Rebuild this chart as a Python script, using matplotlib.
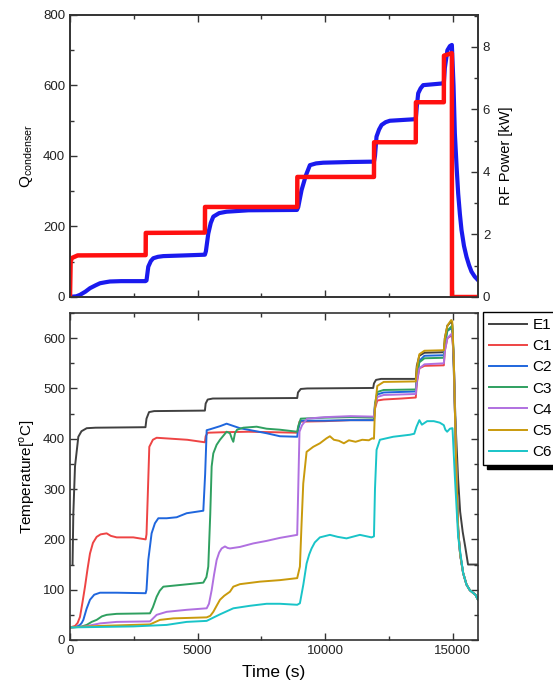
import numpy as np
import matplotlib
matplotlib.use("Agg")
import matplotlib.pyplot as plt
from matplotlib.ticker import MultipleLocator

plt.rcParams['font.family'] = ['Liberation Sans', 'DejaVu Sans']
plt.rcParams['mathtext.fontset'] = 'custom'
plt.rcParams['mathtext.rm'] = 'Liberation Sans'

# ---- top panel: condenser heat (left) and RF power (right) ----
q_t = [0, 100, 250, 390, 600, 784, 1000, 1176, 1400, 1568, 2000, 2960, 3000, 3070,
       3170, 3267, 3450, 3660, 4500, 5290, 5330, 5423, 5520, 5620, 5850, 6142, 7000,
       8900, 8950, 9080, 9250, 9408, 9650, 9930, 11000, 11920, 11960, 12020, 12120,
       12218, 12380, 12544, 13450, 13560, 13600, 13655, 13750, 13850, 14633, 14660,
       14700, 14800, 14900, 14975, 15040, 15092, 15160, 15222, 15290, 15353, 15450,
       15549, 15650, 15745, 15870, 16000]
q_val = [0, 1, 2, 6, 15, 25, 33, 39, 42, 44, 45, 45, 47, 86, 102, 110, 114, 116, 118,
         120, 130, 180, 210, 228, 238, 242, 246, 247, 255, 303, 345, 374, 379, 381, 383,
         384, 400, 455, 475, 488, 496, 500, 504, 505, 540, 578, 592, 601, 606, 606, 650,
         700, 712, 715, 600, 464, 370, 294, 235, 190, 145, 114, 90, 72, 58, 48]

rf_t = [0, 25, 80, 300, 2967, 2972, 5290, 5295, 8910, 8915, 11920, 11925, 13560,
        13565, 14660, 14665, 14975, 14980, 16000]
rf_kw = [0, 1.15, 1.25, 1.33, 1.34, 2.05, 2.06, 2.88, 2.88, 3.84, 3.84, 4.95, 4.95,
         6.23, 6.23, 7.72, 7.8, 0, 0]

# ---- bottom panel: temperatures ----
fall_t = [15050, 15110, 15160, 15222, 15300, 15418, 15550, 15680, 15800, 15900, 16000]
fall_val = [560, 420, 320, 220, 170, 133, 110, 99, 94, 90, 80]

e1_t = [100, 130, 196, 327, 450, 655, 1000, 2960, 3000, 3100, 3300, 5290, 5320, 5400,
        5600, 8910, 8940, 9050, 9300, 11890, 11920, 12000, 12200, 13560, 13600, 13700,
        13900, 14660, 14700, 14800, 14950, 14990, 15060, 15130, 15220, 15300, 15400,
        15500, 15610, 16000]
e1_val = [150, 250, 345, 404, 415, 421, 422, 423, 440, 453, 455, 456, 470, 478, 480,
          481, 492, 499, 500, 501, 510, 517, 519, 519, 545, 565, 571, 572, 600, 625,
          633, 628, 520, 420, 320, 255, 215, 185, 150, 150]

c1_t = [0, 200, 300, 392, 490, 588, 690, 784, 900, 1045, 1200, 1437, 1600, 1830, 2483,
        2967, 3000, 3044, 3110, 3250, 3398, 4000, 4600, 5290, 5320, 5400, 6000, 7000,
        8000, 8910, 8950, 9000, 10000, 11000, 11920, 11960, 12050, 12300, 13000, 13560,
        13600, 13700, 13900, 14660, 14700, 14800, 14990]
c1_val = [25, 28, 34, 46, 75, 106, 142, 172, 193, 205, 210, 212, 207, 204, 204, 200,
          210, 278, 384, 398, 402, 400, 398, 393, 405, 412, 413, 414, 413, 412, 420,
          434, 435, 437, 437, 460, 476, 478, 480, 482, 510, 540, 545, 546, 575, 600, 606]

c2_t = [0, 250, 392, 460, 523, 650, 784, 950, 1176, 1830, 2967, 3000, 3070, 3200, 3330,
        3464, 3790, 4183, 4575, 5228, 5300, 5360, 5500, 5882, 6142, 6665, 7710, 8233,
        8910, 8950, 9050, 10000, 11000, 11920, 11960, 12050, 12300, 13560, 13600, 13700,
        13900, 14660, 14700, 14800, 14990]
c2_val = [25, 26, 30, 34, 40, 62, 80, 90, 94, 94, 93, 100, 159, 212, 232, 242, 242, 244,
          252, 257, 330, 417, 419, 425, 430, 421, 411, 405, 404, 420, 436, 436, 437,
          437, 465, 488, 492, 494, 520, 555, 565, 566, 590, 615, 620]

c3_t = [0, 400, 655, 850, 1045, 1250, 1437, 1830, 3137, 3250, 3398, 3520, 3660, 4445,
        5228, 5350, 5423, 5500, 5555, 5620, 5750, 5882, 6142, 6273, 6350, 6404, 6469,
        6550, 6796, 7318, 7710, 8233, 8910, 8950, 9050, 10000, 11000, 11920, 11960,
        12050, 12300, 13560, 13600, 13700, 13900, 14660, 14700, 14800, 14990]
c3_val = [25, 26, 30, 36, 40, 47, 50, 52, 53, 65, 86, 98, 106, 110, 114, 125, 146, 250,
          345, 371, 388, 398, 414, 411, 400, 394, 411, 418, 422, 424, 420, 418, 414,
          425, 440, 442, 443, 442, 470, 493, 497, 498, 525, 552, 560, 561, 590, 615, 625]

c4_t = [0, 600, 1176, 1830, 3137, 3398, 3790, 4575, 5360, 5450, 5555, 5650, 5751, 5850,
        5947, 6077, 6180, 6273, 6665, 7188, 7710, 8233, 8910, 8950, 9000, 9100, 9300,
        10000, 11000, 11920, 11960, 12050, 12300, 13560, 13600, 13700, 13900, 14660,
        14700, 14800, 14990]
c4_val = [25, 27, 33, 36, 37, 50, 56, 60, 63, 72, 99, 130, 159, 174, 182, 186, 183, 182,
          185, 192, 197, 203, 209, 300, 414, 427, 440, 443, 445, 444, 465, 483, 487,
          489, 515, 540, 548, 550, 575, 600, 610]

c5_t = [0, 1176, 2483, 3137, 3529, 4052, 5360, 5500, 5620, 5750, 5882, 6050, 6273, 6404,
        6665, 7449, 8233, 8910, 9016, 9080, 9147, 9278, 9539, 9800, 10061, 10192, 10349,
        10545, 10741, 10937, 11198, 11459, 11720, 11851, 11920, 11960, 12050, 12300,
        13560, 13600, 13700, 13900, 14660, 14700, 14800, 14950, 14990]
c5_val = [25, 28, 30, 31, 40, 43, 45, 48, 56, 68, 80, 88, 96, 106, 111, 116, 119, 123,
          146, 230, 311, 374, 384, 391, 401, 405, 398, 396, 391, 397, 394, 398, 397,
          401, 400, 460, 505, 513, 514, 540, 568, 575, 576, 600, 625, 636, 633]

c6_t = [0, 2483, 3790, 4575, 5360, 5600, 5882, 6404, 7057, 7710, 8233, 8910, 9016, 9150,
        9278, 9380, 9474, 9600, 9800, 10192, 10500, 10845, 11368, 11826, 11920, 11960,
        12022, 12153, 12675, 13328, 13500, 13589, 13700, 13800, 14006, 14267, 14500,
        14659, 14720, 14790, 14900, 14986, 15000, 15092, 15222]
c6_val = [25, 27, 30, 36, 38, 44, 51, 63, 68, 72, 72, 70, 73, 110, 152, 170, 182, 194,
          204, 209, 205, 202, 209, 204, 206, 300, 378, 398, 404, 408, 410, 424, 437,
          428, 435, 435, 432, 427, 418, 414, 420, 421, 421, 325, 205]

series_names = ['E1', 'C1', 'C2', 'C3', 'C4', 'C5', 'C6']
series_colors = ['#404040', '#ee4444', '#1f66dd', '#2fa060', '#b070e0', '#c99a0c', '#19c4c8']

SPINE = '#333333'


def style_axis(ax):
    for s in ax.spines.values():
        s.set_color(SPINE)
        s.set_linewidth(1.2)
    ax.tick_params(which='both', direction='in', colors=SPINE, labelcolor='#222222',
                   labelsize=9.5, width=1.0)
    ax.tick_params(which='major', length=5)
    ax.tick_params(which='minor', length=3)


fig = plt.figure(figsize=(5.53, 6.90), dpi=100)

# top panel
ax1 = fig.add_axes([70 / 553, 1 - 297 / 690, 408 / 553, 282 / 690])
ax1r = ax1.twinx()
ax1.plot(q_t, q_val, color='#1a1aee', lw=3.0)
ax1r.plot(rf_t, rf_kw, color='#ff1010', lw=3.2)
ax1.set_xlim(0, 16000)
ax1.set_ylim(0, 800)
ax1r.set_ylim(0, 9.02)
ax1.xaxis.set_major_locator(MultipleLocator(5000))
ax1.xaxis.set_minor_locator(MultipleLocator(2500))
ax1.yaxis.set_major_locator(MultipleLocator(200))
ax1.yaxis.set_minor_locator(MultipleLocator(100))
ax1r.yaxis.set_major_locator(MultipleLocator(2))
ax1r.yaxis.set_minor_locator(MultipleLocator(1))
style_axis(ax1)
style_axis(ax1r)
ax1.tick_params(which='both', top=True, bottom=True, labelbottom=False, right=False)
ax1.set_ylabel(r'Q$_{\mathregular{condenser}}$', fontsize=11, labelpad=6)
ax1r.set_ylabel('RF Power [kW]', fontsize=10.5, labelpad=6)

# bottom panel
ax2 = fig.add_axes([70 / 553, 1 - 640 / 690, 408 / 553, 327 / 690])
all_t = [e1_t, c1_t, c2_t, c3_t, c4_t, c5_t, c6_t]
all_v = [e1_val, c1_val, c2_val, c3_val, c4_val, c5_val, c6_val]
for i, (name, col) in enumerate(zip(series_names, series_colors)):
    tt = list(all_t[i])
    vv = list(all_v[i])
    if name not in ('E1', 'C6'):
        tt += fall_t
        vv += fall_val
    elif name == 'C6':
        tt += fall_t[5:]
        vv += fall_val[5:]
    ax2.plot(tt, vv, color=col, lw=1.4, label=name)

ax2.set_xlim(0, 16000)
ax2.set_ylim(0, 650)
ax2.xaxis.set_major_locator(MultipleLocator(5000))
ax2.xaxis.set_minor_locator(MultipleLocator(2500))
ax2.yaxis.set_major_locator(MultipleLocator(100))
ax2.yaxis.set_minor_locator(MultipleLocator(50))
style_axis(ax2)
ax2.tick_params(which='both', top=True, right=True)
ax2.set_xlabel('Time (s)', fontsize=12.5, labelpad=6)
ax2.set_ylabel(r'Temperature[$^{\mathregular{o}}$C]', fontsize=11, labelpad=4)

leg = ax2.legend(loc='upper left', bbox_to_anchor=(483 / 553, 1 - 312 / 690),
                 bbox_transform=fig.transFigure, borderaxespad=0, fontsize=11,
                 frameon=True, fancybox=False, edgecolor='black', framealpha=1,
                 labelspacing=0.47, handlelength=2.5, handletextpad=0.35,
                 borderpad=0.4,
                 shadow={'ox': 3, 'oy': -3, 'color': 'black', 'alpha': 1})
leg.get_frame().set_linewidth(1.0)

fig.savefig('out.png', dpi=100)
